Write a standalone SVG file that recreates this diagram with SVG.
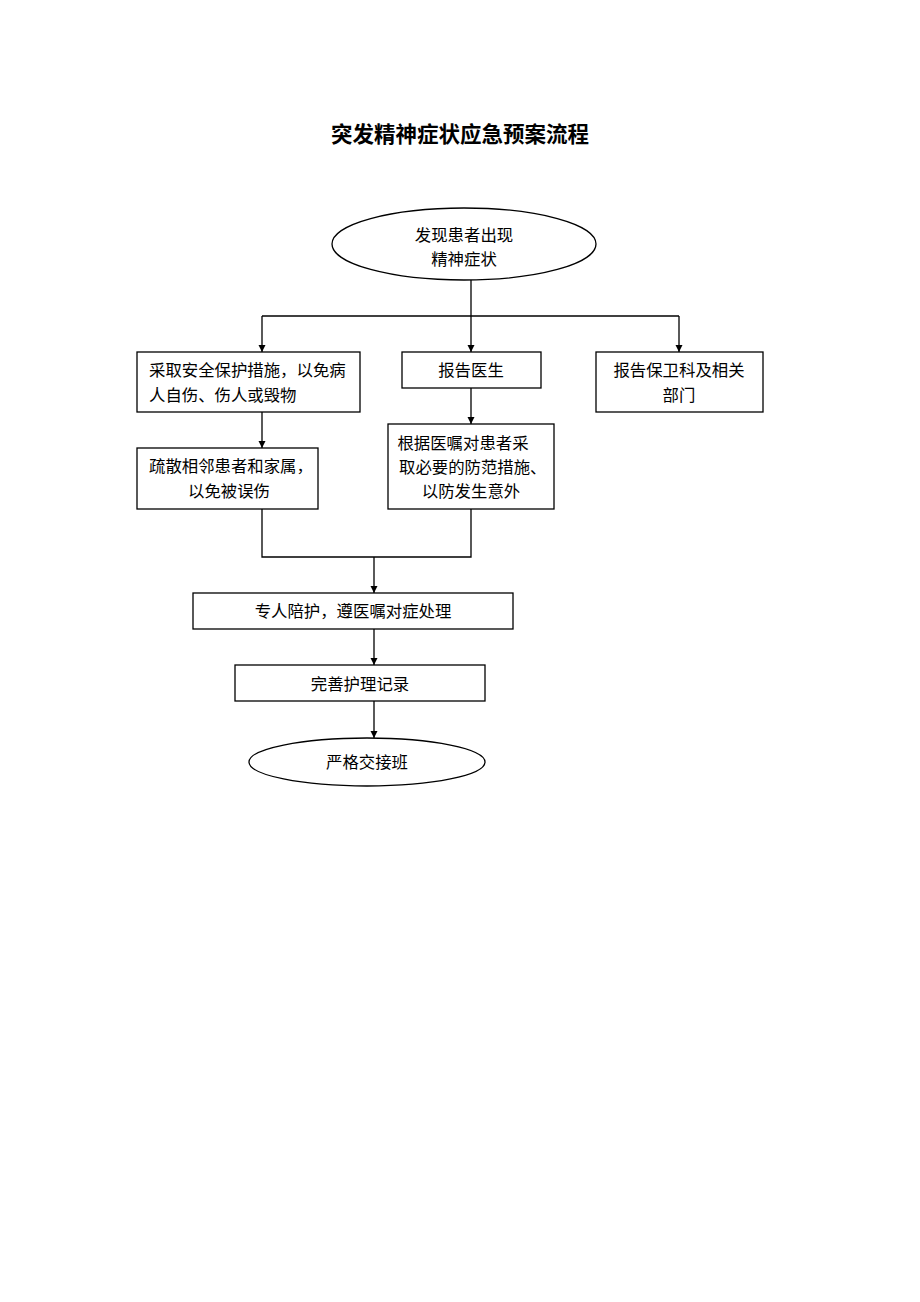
<svg xmlns="http://www.w3.org/2000/svg" width="920" height="1302" viewBox="0 0 920 1302">
<style>
.box{fill:#fff;stroke:#000;stroke-width:1.3}
.t{font-family:"Liberation Serif","Noto Sans CJK SC",serif;font-size:16.4px;fill:#000;dominant-baseline:central}
.c{text-anchor:middle}
.ln{fill:none;stroke:#000;stroke-width:1.3}
</style>
<defs>
<marker id="ah" viewBox="0 0 10 10" refX="10" refY="5" markerWidth="7" markerHeight="9" markerUnits="userSpaceOnUse" orient="auto">
<path d="M0,0 L10,5 L0,10 Z" fill="#000"/>
</marker>
</defs>
<rect width="920" height="1302" fill="#fff"/>
<text x="460" y="135" class="t c" style="font-size:21.5px;font-weight:bold;font-family:'Liberation Sans','Noto Sans CJK SC',sans-serif">突发精神症状应急预案流程</text>
<g id="connectors">
<line class="ln" x1="471" y1="280" x2="471" y2="316"/>
<line class="ln" x1="262" y1="316" x2="679" y2="316"/>
<line class="ln" x1="262" y1="316" x2="262" y2="352" marker-end="url(#ah)"/>
<line class="ln" x1="471" y1="316" x2="471" y2="352" marker-end="url(#ah)"/>
<line class="ln" x1="679" y1="316" x2="679" y2="352" marker-end="url(#ah)"/>
<line class="ln" x1="262" y1="412" x2="262" y2="448" marker-end="url(#ah)"/>
<line class="ln" x1="471" y1="388" x2="471" y2="424" marker-end="url(#ah)"/>
<polyline class="ln" points="262,509 262,557 471,557 471,509"/>
<line class="ln" x1="374" y1="557" x2="374" y2="593" marker-end="url(#ah)"/>
<line class="ln" x1="374" y1="629" x2="374" y2="665" marker-end="url(#ah)"/>
<line class="ln" x1="374" y1="701" x2="374" y2="738" marker-end="url(#ah)"/>
</g>
<g id="n1">
<ellipse class="box" cx="464" cy="244" rx="132" ry="36"/>
<text x="464" y="235" class="t c">发现患者出现</text>
<text x="464" y="259" class="t c">精神症状</text>
</g>
<g id="n2">
<rect class="box" x="137" y="352" width="223" height="60"/>
<text x="149" y="370" class="t">采取安全保护措施，以免病</text>
<text x="149" y="395" class="t">人自伤、伤人或毁物</text>
</g>
<g id="n3">
<rect class="box" x="402" y="352" width="139" height="36"/>
<text x="471" y="370" class="t c">报告医生</text>
</g>
<g id="n4">
<rect class="box" x="596" y="352" width="167" height="60"/>
<text x="679" y="370" class="t c">报告保卫科及相关</text>
<text x="679" y="395" class="t c">部门</text>
</g>
<g id="n5">
<rect class="box" x="137" y="448" width="181" height="61"/>
<text x="149" y="466" class="t">疏散相邻患者和家属，</text>
<text x="229" y="491" class="t c">以免被误伤</text>
</g>
<g id="n6">
<rect class="box" x="388" y="424" width="166" height="85"/>
<text x="463" y="443" class="t c">根据医嘱对患者采</text>
<text x="399" y="467" class="t">取必要的防范措施、</text>
<text x="471" y="491" class="t c">以防发生意外</text>
</g>
<g id="n7">
<rect class="box" x="193" y="593" width="320" height="36"/>
<text x="353" y="611" class="t c">专人陪护，遵医嘱对症处理</text>
</g>
<g id="n8">
<rect class="box" x="235" y="665" width="250" height="36"/>
<text x="360" y="684" class="t c">完善护理记录</text>
</g>
<g id="n9">
<ellipse class="box" cx="367" cy="762" rx="118" ry="24"/>
<text x="367" y="762" class="t c">严格交接班</text>
</g>
</svg>
